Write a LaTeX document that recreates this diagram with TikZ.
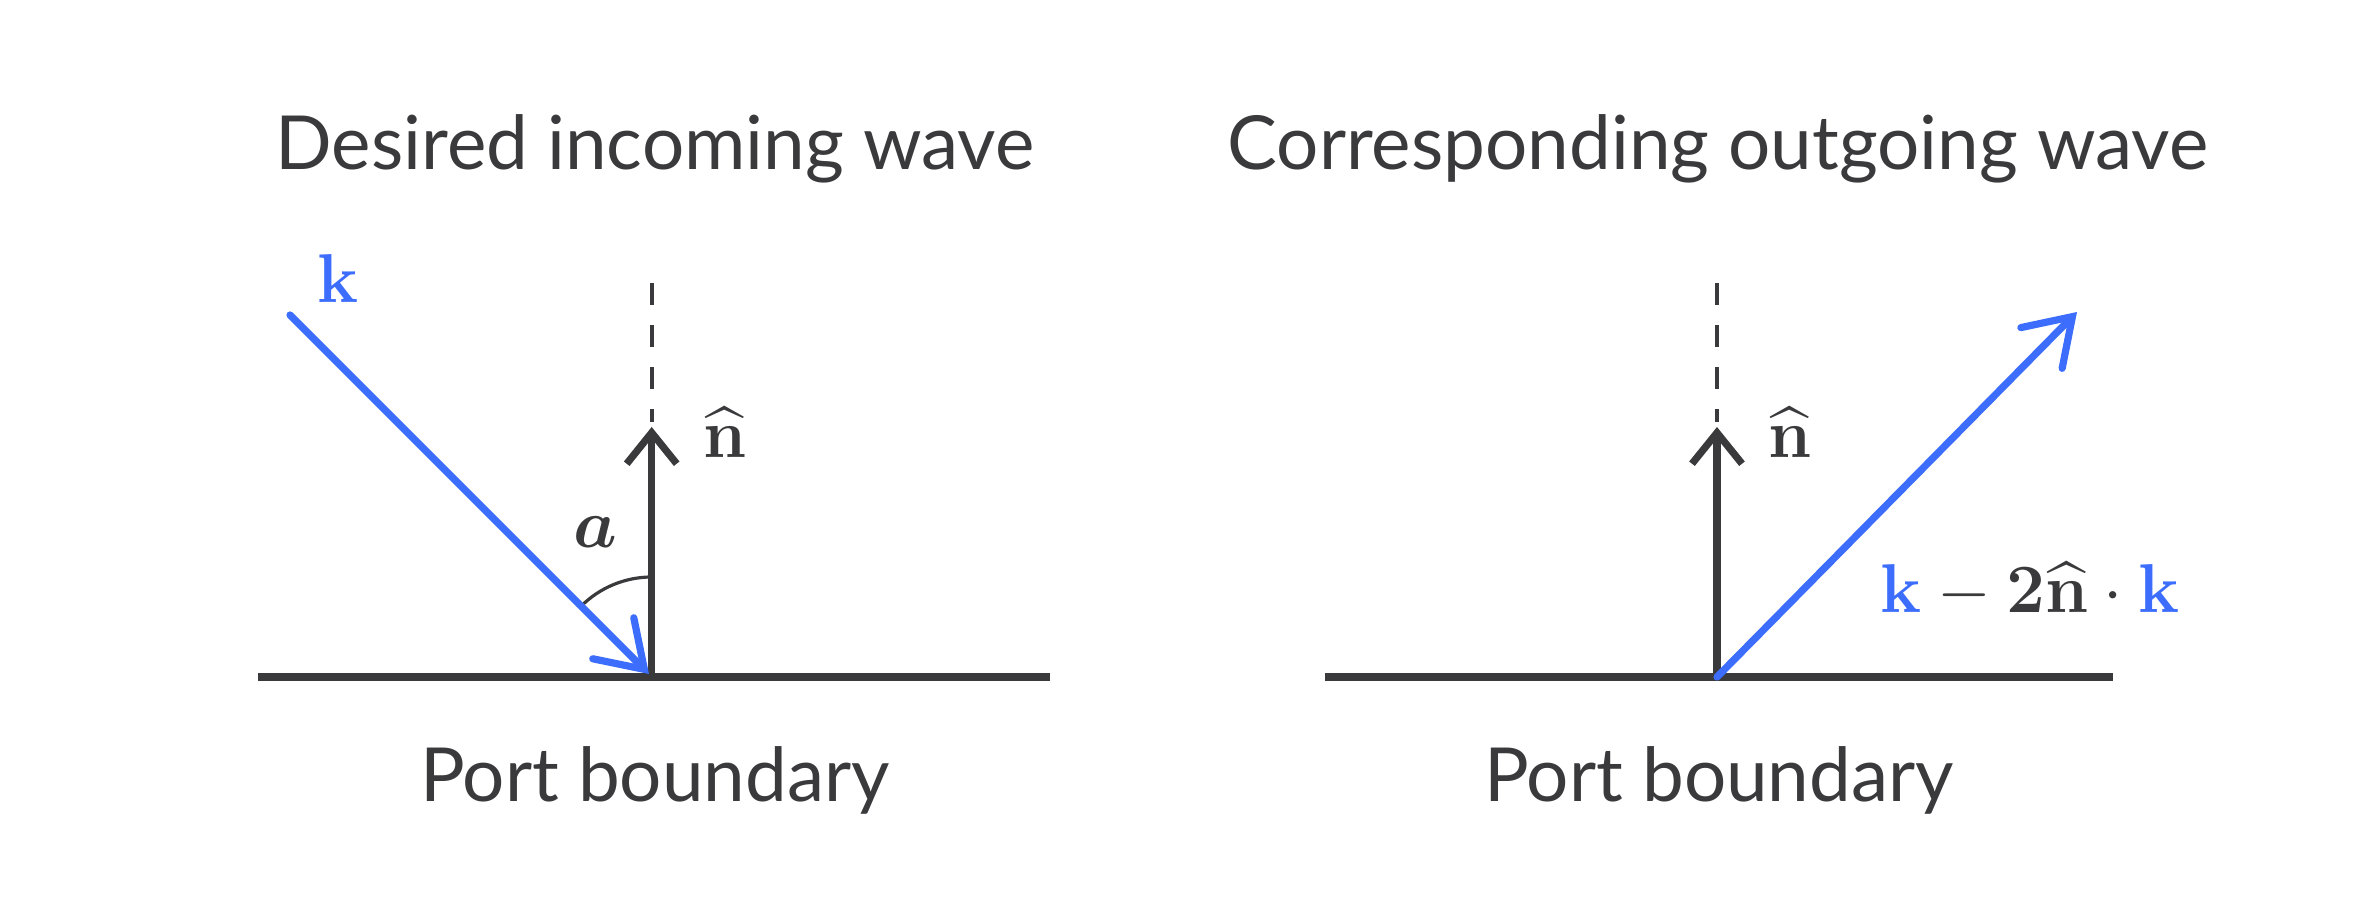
\documentclass[tikz,border=0pt]{standalone}
\usepackage{amsmath}
\usepackage{bm}
\usepackage[no-math]{fontspec}
\setmainfont{Lato}
\usetikzlibrary{arrows.meta}
\definecolor{ink}{HTML}{3A3A3C}
\definecolor{kblue}{HTML}{3C6DFD}
\tikzset{
  titletext/.style={font=\fontsize{18.65}{22}\selectfont, text=ink, anchor=base, inner sep=0pt},
  mathlabel/.style={font=\fontsize{17.3}{20}\selectfont, text=ink, anchor=base, inner sep=0pt},
  boundary/.style={draw=ink, line width=1.8pt, line cap=butt},
  normalvec/.style={draw=ink, line width=1.8pt, -{Straight Barb[length=7.75pt, width=12.5pt]}},
  normalext/.style={draw=ink, line width=1pt, dash pattern=on 5.5pt off 5pt},
  wavevec/.style={draw=kblue, line width=1.8pt, line cap=round, -{Straight Barb[length=11pt, width=14.5pt, line cap=round]}},
  anglearc/.style={draw=ink, line width=0.8pt}
}
\begin{document}
\begin{tikzpicture}[x=0.25pt, y=-0.25pt]
\useasboundingbox (0,0) rectangle (2370,919);
% ---------- left panel ----------
\node[titletext] (t1) at (655,170) {Desired incoming wave};
\coordinate (L1) at (258,677);
\coordinate (R1) at (1050,677);
\coordinate (O1) at (651.7,677);
\coordinate (N1) at (651.7,427);
\coordinate (D1a) at (651.7,283);
\coordinate (D1b) at (651.7,422);
\coordinate (K1s) at (290,315);
\coordinate (K1e) at (649,674);
\draw[boundary] (L1) -- (R1);
\draw[normalext] (D1a) -- (D1b);
\draw[normalvec] (O1) -- (N1);
\draw[anglearc] (651.7,577) arc[start angle=270, end angle=225, radius=100];
\draw[wavevec] (K1s) -- (K1e);
\node[mathlabel, text=kblue] (k1) at (338,303) {$\mathbf{k}$};
\node[mathlabel] (n1) at (725,458) {$\widehat{\mathbf{n}}$};
\node[mathlabel] (a1) at (595,548) {$\bm{a}$};
\node[titletext] (p1) at (655,802) {Port boundary};
% ---------- right panel ----------
\node[titletext] (t2) at (1718,170) {Corresponding outgoing wave};
\coordinate (L2) at (1325,677);
\coordinate (R2) at (2113,677);
\coordinate (O2) at (1717,677);
\coordinate (N2) at (1717,427);
\coordinate (D2a) at (1717,283);
\coordinate (D2b) at (1717,422);
\coordinate (K2e) at (2077,312);
\draw[boundary] (L2) -- (R2);
\draw[normalext] (D2a) -- (D2b);
\draw[normalvec] (O2) -- (N2);
\draw[wavevec] (O2) -- (K2e);
\node[mathlabel] (n2) at (1790,458) {$\widehat{\mathbf{n}}$};
\node[mathlabel, anchor=base west] (f2) at (1880,613) {$\textcolor{kblue}{\mathbf{k}} - \mathbf{2}\widehat{\mathbf{n}}\cdot\textcolor{kblue}{\mathbf{k}}$};
\node[titletext] (p2) at (1719,802) {Port boundary};
\end{tikzpicture}
\end{document}
